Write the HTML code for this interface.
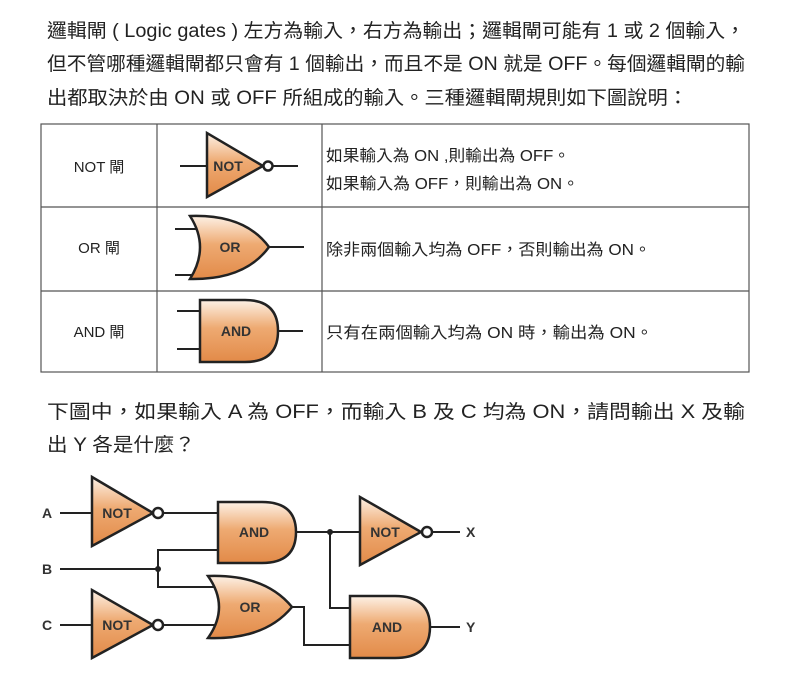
<!DOCTYPE html>
<html><head><meta charset="utf-8"><style>body{margin:0;background:#fff}svg{display:block}</style></head><body>
<svg width="803" height="684" viewBox="0 0 803 684" xmlns="http://www.w3.org/2000/svg" font-family="Liberation Sans, Noto Sans CJK TC, sans-serif">
<defs>
<linearGradient id="g" x1="0" y1="0" x2="0" y2="1">
<stop offset="0" stop-color="#fdf1e6"/><stop offset="0.45" stop-color="#eeaa72"/><stop offset="1" stop-color="#e28a48"/>
</linearGradient>
</defs>
<g font-size="19" fill="#222">
<text x="47" y="37" textLength="698" lengthAdjust="spacingAndGlyphs">邏輯閘 ( Logic gates ) 左方為輸入，右方為輸出；邏輯閘可能有 1 或 2 個輸入，</text>
<text x="47" y="70" textLength="698" lengthAdjust="spacingAndGlyphs">但不管哪種邏輯閘都只會有 1 個輸出，而且不是 ON 就是 OFF。每個邏輯閘的輸</text>
<text x="47" y="104" textLength="641" lengthAdjust="spacingAndGlyphs">出都取決於由 ON 或 OFF 所組成的輸入。三種邏輯閘規則如下圖說明：</text>
<text x="47" y="418" textLength="698" lengthAdjust="spacingAndGlyphs">下圖中，如果輸入 A 為 OFF，而輸入 B 及 C 均為 ON，請問輸出 X 及輸</text>
<text x="47" y="451" textLength="148" lengthAdjust="spacingAndGlyphs">出 Y 各是什麼？</text>
</g>
<g stroke="#555" stroke-width="1.2" fill="none">
<rect x="41" y="124" width="708" height="248"/>
<line x1="157" y1="124" x2="157" y2="372"/><line x1="322" y1="124" x2="322" y2="372"/>
<line x1="41" y1="207" x2="749" y2="207"/><line x1="41" y1="291" x2="749" y2="291"/>
</g>
<g font-size="15" fill="#222" text-anchor="middle">
<text x="99" y="172">NOT 閘</text><text x="99" y="253">OR 閘</text><text x="99" y="337">AND 閘</text>
</g>
<g font-size="16" fill="#222">
<text x="326" y="161" textLength="244" lengthAdjust="spacingAndGlyphs">如果輸入為 ON ,則輸出為 OFF。</text>
<text x="326" y="189" textLength="253" lengthAdjust="spacingAndGlyphs">如果輸入為 OFF，則輸出為 ON。</text>
<text x="326" y="255" textLength="325" lengthAdjust="spacingAndGlyphs">除非兩個輸入均為 OFF，否則輸出為 ON。</text>
<text x="326" y="338" textLength="327" lengthAdjust="spacingAndGlyphs">只有在兩個輸入均為 ON 時，輸出為 ON。</text>
</g>
<g stroke="#222" stroke-width="2" fill="none">
<line x1="180" y1="166" x2="207" y2="166"/><line x1="273" y1="166" x2="298" y2="166"/>
<line x1="175" y1="229" x2="200" y2="229"/><line x1="175" y1="275" x2="200" y2="275"/><line x1="269" y1="247" x2="304" y2="247"/>
<line x1="177" y1="311" x2="200" y2="311"/><line x1="177" y1="349" x2="200" y2="349"/><line x1="278" y1="331" x2="303" y2="331"/>
<line x1="60" y1="513" x2="92" y2="513"/><line x1="163" y1="513" x2="218" y2="513"/>
<line x1="60" y1="625" x2="92" y2="625"/><line x1="163" y1="625" x2="215" y2="625"/>
<line x1="60" y1="569" x2="158" y2="569"/>
<polyline points="218,550 158,550 158,587 215,587"/>
<line x1="296" y1="532" x2="360" y2="532"/><line x1="432" y1="532" x2="460" y2="532"/>
<polyline points="330,532 330,608 350,608"/>
<polyline points="290,607 304,607 304,645 350,645"/>
<line x1="430" y1="627" x2="460" y2="627"/>
</g>
<g stroke="#222" stroke-width="2.5" fill="url(#g)">
<polygon points="207,133 207,197 263,166"/><circle cx="268" cy="166" r="4.5" fill="#fff"/>
<path d="M190,216 Q245,214 269,247 Q245,280 190,279 Q210,247 190,216Z"/>
<path d="M200,300 L245,300 Q278,300 278,331 Q278,362 245,362 L200,362Z"/>
<polygon points="92,477 92,546 153,513"/><circle cx="158" cy="513" r="5" fill="#fff"/>
<polygon points="92,590 92,658 153,625"/><circle cx="158" cy="625" r="5" fill="#fff"/>
<path d="M218,502 L262,502 Q296,502 296,532 Q296,563 262,563 L218,563Z"/>
<polygon points="360,497 360,565 421,532"/><circle cx="427" cy="532" r="5" fill="#fff"/>
<path d="M208,576 Q265,574 292,607 Q265,640 208,638 Q230,607 208,576Z"/>
<path d="M350,596 L395,596 Q430,596 430,627 Q430,658 395,658 L350,658Z"/>
</g>
<circle cx="158" cy="569" r="3" fill="#222"/><circle cx="330" cy="532" r="3" fill="#222"/>
<g font-size="14" font-weight="bold" fill="#333" text-anchor="middle">
<text x="228" y="171">NOT</text><text x="230" y="252">OR</text><text x="236" y="336">AND</text>
<text x="117" y="518">NOT</text><text x="117" y="630">NOT</text><text x="254" y="537">AND</text>
<text x="385" y="537">NOT</text><text x="250" y="612">OR</text><text x="387" y="632">AND</text>
</g>
<g font-size="14" font-weight="bold" fill="#333">
<text x="42" y="518">A</text><text x="42" y="574">B</text><text x="42" y="630">C</text>
<text x="466" y="537">X</text><text x="466" y="632">Y</text>
</g>
</svg>
</body></html>
